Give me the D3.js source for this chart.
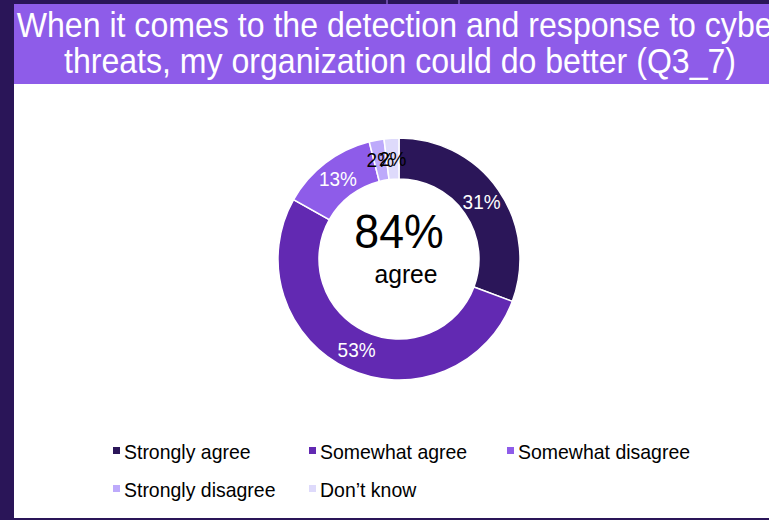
<!DOCTYPE html>
<html>
<head>
<meta charset="utf-8">
<script src="https://cdn.jsdelivr.net/npm/d3@7/dist/d3.min.js"></script>
<style>
  html, body { margin: 0; padding: 0; background: #2a1558; overflow: hidden; }
  svg { display: block; }
</style>
</head>
<body>
<svg id="chart" width="769" height="520"></svg>
<script>
// ---- data ----
const categories = ["Strongly agree", "Somewhat agree", "Somewhat disagree", "Strongly disagree", "Don\u2019t know"];
const values = [31, 53, 13, 2, 2];
const colors = ["#2b1659", "#6229b2", "#8e5ce9", "#bdaafb", "#dedafb"];
const labelColors = ["#ffffff", "#ffffff", "#ffffff", "#000000", "#000000"];
const titleLines = ["When it comes to the detection and response to cyber", "threats, my organization could do better (Q3_7)"];
const centerValue = "84%";
const centerLabel = "agree";

// ---- layout ----
const W = 769, H = 520;
const svg = d3.select("#chart");
const font = "'Liberation Sans', Arial, sans-serif";

// background
svg.append("rect").attr("x", 0).attr("y", 0).attr("width", W).attr("height", H).attr("fill", "#2a1558");
// white panel
svg.append("rect").attr("x", 14).attr("y", 84).attr("width", W - 14).attr("height", 434).attr("fill", "#ffffff");
// title banner
svg.append("rect").attr("x", 14).attr("y", 4).attr("width", W - 14).attr("height", 80).attr("fill", "#8e5ce9");
// faint artifacts in top strip
svg.append("rect").attr("x", 386).attr("y", 0).attr("width", 2).attr("height", 4).attr("fill", "#6b4aa8");
svg.append("rect").attr("x", 458).attr("y", 0).attr("width", 2).attr("height", 4).attr("fill", "#6b4aa8");

// title (slightly condensed, taller glyphs)
svg.append("g").selectAll("text").data(titleLines).join("text")
  .attr("transform", (d, i) => `translate(400,${37 + i * 36}) scale(0.93,1)`)
  .attr("text-anchor", "middle")
  .attr("fill", "#ffffff")
  .attr("font-family", font)
  .attr("font-size", 34.5)
  .text(d => d);

// donut
const cx = 399, cy = 259, outerR = 121, innerR = 80;
const pie = d3.pie().value(d => d.v).sort(null).startAngle(0).endAngle(2 * Math.PI);
const arcs = pie(values.map((v, i) => ({ v, i })));
const arc = d3.arc().innerRadius(innerR).outerRadius(outerR);
const g = svg.append("g").attr("transform", `translate(${cx},${cy})`);

g.selectAll("path").data(arcs).join("path")
  .attr("d", arc)
  .attr("fill", d => colors[d.data.i])
  .attr("stroke", "#ffffff")
  .attr("stroke-width", 1.5);

g.selectAll("text.lbl").data(arcs).join("text")
  .attr("class", "lbl")
  .attr("transform", d => `translate(${arc.centroid(d)}) scale(0.95,1)`)
  .attr("text-anchor", "middle")
  .attr("dy", "0.35em")
  .attr("fill", d => labelColors[d.data.i])
  .attr("font-family", font)
  .attr("font-size", 20)
  .text(d => d.data.v + "%");

// center text
svg.append("text")
  .attr("transform", "translate(399,248) scale(0.93,1)")
  .attr("text-anchor", "middle")
  .attr("font-family", font)
  .attr("font-size", 48)
  .attr("fill", "#000")
  .text(centerValue);
svg.append("text")
  .attr("transform", "translate(406,283) scale(0.95,1)")
  .attr("text-anchor", "middle")
  .attr("font-family", font)
  .attr("font-size", 26)
  .attr("fill", "#000")
  .text(centerLabel);

// legend
const legX = [113, 309, 507];
const legY = [459, 497];
const leg = svg.append("g").selectAll("g").data(categories).join("g")
  .attr("transform", (d, i) => `translate(${legX[i % 3]},${legY[Math.floor(i / 3)]})`);
leg.append("rect")
  .attr("x", 0).attr("y", -12).attr("width", 7).attr("height", 7)
  .attr("fill", (d, i) => colors[i]);
leg.append("text")
  .attr("transform", "translate(11,0) scale(0.95,1)")
  .attr("font-family", font)
  .attr("font-size", 20.5)
  .attr("fill", "#000")
  .text(d => d);
</script>
</body>
</html>
